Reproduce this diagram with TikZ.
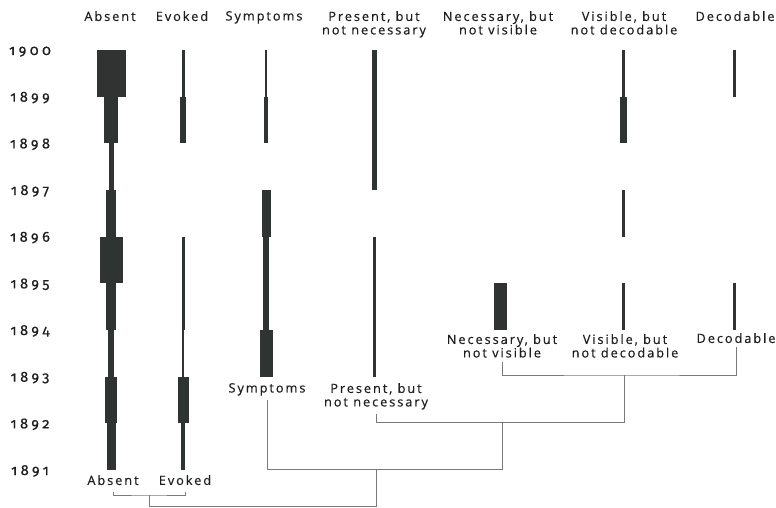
\documentclass[tikz,border=0pt]{standalone}
\usepackage{fontspec}
\setmainfont{Open Sans}[LetterSpace=15,FakeBold=0.5]
\newfontfamily\yearfont{Fira Sans}[Numbers=OldStyle,LetterSpace=24,FakeBold=0.5]
\usetikzlibrary{positioning}

\definecolor{ink}{HTML}{1E1E1E}
\definecolor{barcol}{HTML}{2F3331}
\definecolor{linkcol}{HTML}{7A7A7A}

\tikzset{
  bar/.style={fill=barcol},
  head/.style={anchor=north,align=center,inner sep=0pt,text=ink,font=\fontsize{12.8}{13.5}\selectfont},
  leaf/.style={anchor=north,align=center,inner xsep=0pt,inner ysep=4pt,text=ink,font=\fontsize{12.8}{13.5}\selectfont},
  yr/.style={anchor=base,inner sep=0pt,text=ink,font=\yearfont\fontsize{14.5}{15}\selectfont},
  link/.style={draw=linkcol,line width=0.8pt},
}

\begin{document}
\begin{tikzpicture}[x=1pt,y=-1pt]
  \useasboundingbox (0,0) rectangle (776,508);
  \foreach \yr [count=\i from 0] in {1900,1899,...,1891}
    \node[yr] (y\yr) at (30,{50+\i*46.67+5}) {\yr};

  \foreach \cx/\segs in {111/{1900/29,1899/14,1898/5,1897/10,1896/23,1895/10,1894/6,1893/12,1892/9},
                         183/{1900/3,1899/6,1896/3,1895/3,1894/2,1893/11,1892/4},
                         266/{1900/2.5,1899/4,1897/9,1896/6,1895/6,1894/13},
                         374/{1900/5,1899/5,1898/5,1896/3,1895/3,1894/3},
                         500/{1895/13},
                         623/{1900/3,1899/7,1897/3,1895/3},
                         734/{1900/3,1895/3}}
  {
    \foreach \yr/\w in \segs
      \fill[bar] ({\cx-\w/2},{50+(1900-\yr)*46.67}) rectangle ++(\w,46.67);
  }

  \node[head] (hAbs) at (110,11) {Absent};
  \node[head] (hEvo) at (182,11) {Evoked};
  \node[head] (hSym) at (264,11) {Symptoms};
  \node[head] (hPre) at (374,11) {Present, but\\not necessary};
  \node[head] (hNec) at (498,11) {Necessary, but\\not visible};
  \node[head] (hVis) at (624,11) {Visible, but\\not decodable};
  \node[head] (hDec) at (735,11) {Decodable};

  \node[leaf] (lNec) at (502,330) {Necessary, but\\not visible};
  \node[leaf] (lVis) at (625,330) {Visible, but\\not decodable};
  \node[leaf] (lDec) at (736,329) {Decodable};
  \node[leaf] (lSym) at (267,379) {Symptoms};
  \node[leaf] (lPre) at (376,379) {Present, but\\not necessary};
  \node[leaf,inner ysep=7pt] (lAbs) at (113,468) {Absent};
  \node[leaf,inner ysep=7pt] (lEvo) at (185,468) {Evoked};

  \coordinate (j1) at (624,375);
  \coordinate (j2) at (502,422);
  \coordinate (j3) at (376,469);
  \coordinate (j4) at (149,506);
  \coordinate (j5) at (149,495);
  \draw[link] (lNec) |- (j1) -| (lDec);
  \draw[link] (j1) |- (j2);
  \draw[link] (lPre) |- (j2);
  \draw[link] (j2) |- (j3);
  \draw[link] (lSym) |- (j3);
  \draw[link] (j3) |- (j4);
  \draw[link] (lAbs) |- (j5) -| (lEvo);
  \draw[link] (j5) -- (j4);
\end{tikzpicture}
\end{document}
